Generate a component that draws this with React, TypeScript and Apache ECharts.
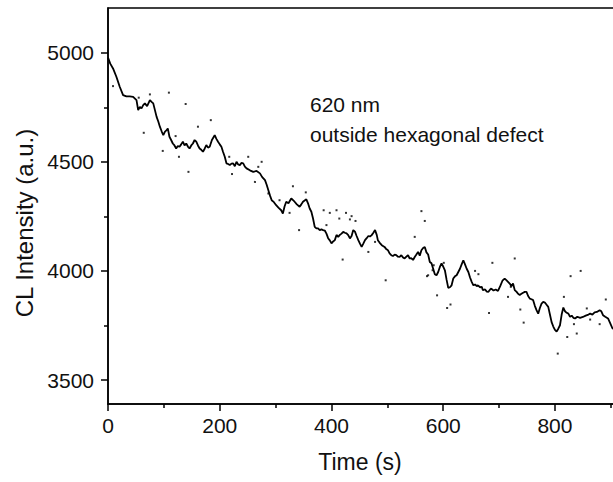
import { useEffect, useRef } from "react";
import * as echarts from "echarts";

// Main CL intensity trace (time in s, intensity in a.u.)
const timeS = [
  0, 4, 9, 15, 21, 27, 33, 39, 45, 51, 54, 57, 60, 63, 66, 70, 75, 78, 81, 84,
  87, 90, 93, 96, 99, 102, 105, 107, 110, 113, 116, 119, 122, 125, 128, 131, 134, 137, 140, 143,
  146, 149, 152, 155, 158, 161, 164, 167, 170, 173, 176, 179, 182, 186, 191, 194, 197, 200, 203, 206,
  209, 212, 215, 218, 221, 224, 227, 230, 233, 236, 239, 242, 245, 248, 254, 260, 266, 272, 276, 281,
  284, 287, 290, 293, 297, 301, 305, 310, 313, 316, 319, 323, 328, 331, 334, 338, 343, 346, 349, 355,
  358, 361, 364, 367, 370, 373, 376, 379, 382, 385, 388, 391, 394, 397, 400, 403, 406, 409, 412, 415,
  418, 421, 424, 427, 430, 433, 436, 439, 442, 445, 448, 451, 454, 457, 460, 463, 466, 469, 472, 475,
  478, 481, 483, 486, 490, 495, 498, 501, 504, 507, 510, 513, 516, 519, 522, 525, 528, 531, 534, 537,
  540, 543, 546, 549, 552, 555, 558, 561, 564, 567, 570, 573, 576, 579, 582, 585, 588, 591, 594, 597,
  600, 603, 606, 609, 612, 615, 618, 621, 624, 627, 630, 633, 636, 639, 642, 645, 648, 651, 654, 657,
  660, 662, 666, 669, 671, 675, 678, 681, 684, 686, 690, 694, 698, 702, 706, 710, 713, 716, 719, 722,
  725, 728, 731, 734, 737, 740, 743, 746, 749, 752, 755, 758, 761, 764, 767, 770, 773, 776, 779, 782,
  785, 788, 791, 794, 797, 800, 803, 806, 809, 812, 815, 818, 821, 824, 827, 830, 833, 836, 840, 845,
  850, 855, 860, 863, 867, 871, 875, 880, 883, 886, 890, 895, 899, 903, 910, 918,
];
const intensity = [
  4978, 4950, 4928, 4890, 4844, 4806, 4800, 4800, 4798, 4783, 4737, 4752, 4745, 4760, 4768, 4755, 4783, 4775, 4768, 4737,
  4706, 4685, 4660, 4640, 4622, 4638, 4645, 4653, 4615, 4600, 4584, 4575, 4561, 4572, 4569, 4580, 4592, 4575, 4584, 4570,
  4561, 4575, 4584, 4600, 4592, 4575, 4561, 4555, 4546, 4560, 4577, 4565, 4569, 4600, 4622, 4605, 4592, 4580, 4569, 4545,
  4523, 4493, 4490, 4485, 4492, 4493, 4480, 4500, 4488, 4485, 4495, 4493, 4478, 4470, 4461, 4454, 4458, 4447, 4430, 4416,
  4395, 4370, 4345, 4324, 4315, 4301, 4290, 4278, 4263, 4295, 4317, 4310, 4332, 4325, 4317, 4305, 4294, 4305, 4317, 4328,
  4310, 4286, 4271, 4240, 4202, 4195, 4195, 4187, 4190, 4187, 4185, 4171, 4150, 4140, 4126, 4135, 4141, 4165, 4156, 4165,
  4171, 4179, 4175, 4172, 4164, 4149, 4160, 4187, 4180, 4160, 4141, 4125, 4110, 4125, 4141, 4150, 4160, 4158, 4164, 4175,
  4187, 4165, 4141, 4130, 4118, 4110, 4100, 4095, 4080, 4072, 4068, 4075, 4072, 4065, 4064, 4072, 4062, 4057, 4065, 4072,
  4057, 4058, 4050, 4064, 4075, 4087, 4070, 4095, 4105, 4110, 4085, 4075, 4041, 4035, 4010, 3985, 3980, 3995, 4018, 4034,
  4020, 4003, 3960, 3922, 3925, 3934, 3965, 3975, 3980, 3995, 4010, 4030, 4049, 4030, 4010, 3995, 3970, 3950, 3934, 3938,
  3930, 3934, 3925, 3927, 3912, 3915, 3905, 3904, 3915, 3919, 3910, 3915, 3908, 3930, 3955, 3965, 3958, 3950, 3942, 3930,
  3942, 3912, 3905, 3895, 3890, 3895, 3900, 3904, 3904, 3885, 3873, 3870, 3866, 3840, 3820, 3804, 3830, 3850, 3858, 3855,
  3845, 3835, 3800, 3765, 3745, 3730, 3722, 3735, 3751, 3800, 3832, 3815, 3808, 3804, 3790, 3795, 3785, 3782, 3790, 3785,
  3789, 3795, 3800, 3804, 3800, 3810, 3812, 3820, 3815, 3797, 3790, 3782, 3760, 3736, 3730, 3725,
];

// Scattered outlier points
const dotTime = [
  9, 55, 75, 109, 139, 64, 161, 184, 98, 127, 144, 121, 217, 251, 275, 222, 331, 269, 263, 287,
  307, 354, 342, 325, 386, 397, 409, 414, 426, 433, 443, 436, 391, 420, 466, 478, 497, 549, 561, 567,
  573, 581, 571, 589, 607, 613, 583, 601, 657, 663, 688, 682, 716, 721, 728, 738, 744, 816, 822, 828,
  839, 846, 857, 863, 880, 891, 805, 834,
];
const dotIntensity = [
  4847, 4794, 4809, 4817, 4765, 4633, 4661, 4691, 4550, 4523, 4454, 4618, 4523, 4523, 4500, 4444, 4388, 4477, 4408, 4355,
  4324, 4360, 4187, 4266, 4278, 4266, 4278, 4240, 4266, 4236, 4229, 4251, 4210, 4052, 4087, 4133, 3957, 4156, 4274, 4229,
  3980, 4003, 3976, 3888, 3830, 3846, 4026, 4037, 4000, 3985, 4037, 3807, 3881, 3927, 4057, 3823, 3763, 3881, 3697, 3976,
  3713, 4000, 3828, 3777, 3756, 3869, 3621, 3756,
];

const xTickLabels = [0, 200, 400, 600, 800];
const xMinorTicks = [100, 300, 500, 700, 900];
const yTickLabels = [3500, 4000, 4500, 5000];
const yMinorTicks = [3750, 4250, 4750];

const annotationLines = ["620 nm", "outside hexagonal defect"];

const FONT = "'Liberation Sans', Arial, sans-serif";

export default function App() {
  const ref = useRef<HTMLDivElement>(null);

  useEffect(() => {
    if (!ref.current) return;
    const chart = echarts.init(ref.current, null, { renderer: "svg" });
    const lineData = timeS.map((t, i) => [t, intensity[i]]);
    const dotData = dotTime.map((t, i) => [t, dotIntensity[i]]);
    const axisLineStyle = { color: "#000", width: 1.5 };
    const plain = (v: number) => String(v);
    chart.setOption({
      animation: false,
      backgroundColor: "#fff",
      grid: {
        left: 108,
        top: 8,
        right: 18,
        bottom: 78,
        show: true,
        borderColor: "#000",
        borderWidth: 1.5,
        backgroundColor: "transparent",
      },
      xAxis: [
        {
          type: "value",
          min: 0,
          max: 920,
          position: "bottom",
          name: "Time (s)",
          nameLocation: "middle",
          nameGap: 46,
          nameTextStyle: { fontFamily: FONT, fontSize: 23, color: "#111", padding: [0, 10, 0, 0] },
          axisLine: { show: true, onZero: false, lineStyle: axisLineStyle },
          axisTick: { show: true, inside: false, length: 7, customValues: xTickLabels, lineStyle: axisLineStyle },
          axisLabel: {
            show: true,
            customValues: xTickLabels,
            formatter: plain,
            margin: 11,
            fontFamily: FONT,
            fontSize: 21,
            color: "#111",
          },
          splitLine: { show: false },
        },
        {
          type: "value",
          min: 0,
          max: 920,
          position: "bottom",
          axisLine: { show: false, onZero: false },
          axisTick: { show: true, inside: false, length: 4, customValues: xMinorTicks, lineStyle: axisLineStyle },
          axisLabel: { show: false },
          splitLine: { show: false },
        },
      ],
      yAxis: [
        {
          type: "value",
          min: 3390,
          max: 5205,
          position: "left",
          name: "CL Intensity (a.u.)",
          nameLocation: "middle",
          nameGap: 72,
          nameTextStyle: { fontFamily: FONT, fontSize: 24, color: "#111", padding: [0, 34, 0, 0] },
          axisLine: { show: true, onZero: false, lineStyle: axisLineStyle },
          axisTick: { show: true, inside: false, length: 7, customValues: yTickLabels, lineStyle: axisLineStyle },
          axisLabel: {
            show: true,
            customValues: yTickLabels,
            formatter: plain,
            margin: 14,
            fontFamily: FONT,
            fontSize: 21,
            color: "#111",
            padding: [0, 0, 7, 0],
          },
          splitLine: { show: false },
        },
        {
          type: "value",
          min: 3390,
          max: 5205,
          position: "left",
          axisLine: { show: false, onZero: false },
          axisTick: { show: true, inside: false, length: 4, customValues: yMinorTicks, lineStyle: axisLineStyle },
          axisLabel: { show: false },
          splitLine: { show: false },
        },
      ],
      graphic: [
        {
          type: "text",
          left: 310,
          top: 94,
          style: { text: annotationLines[0], font: `21px ${FONT}`, fill: "#111" },
        },
        {
          type: "text",
          left: 310,
          top: 124,
          style: { text: annotationLines[1], font: `21px ${FONT}`, fill: "#111" },
        },
      ],
      series: [
        {
          type: "line",
          xAxisIndex: 0,
          yAxisIndex: 0,
          data: lineData,
          showSymbol: false,
          symbol: "none",
          lineStyle: { color: "#000", width: 1.8 },
          clip: true,
          z: 3,
        },
        {
          type: "scatter",
          xAxisIndex: 0,
          yAxisIndex: 0,
          data: dotData,
          symbol: "rect",
          symbolSize: 2,
          itemStyle: { color: "#000" },
          z: 4,
        },
      ],
    });
    return () => chart.dispose();
  }, []);

  return (
    <div
      style={{
        position: "absolute",
        left: 0,
        top: 0,
        width: 613,
        height: 482,
        overflow: "hidden",
        background: "#fff",
      }}
    >
      <div ref={ref} style={{ width: 640, height: 482 }} />
    </div>
  );
}
